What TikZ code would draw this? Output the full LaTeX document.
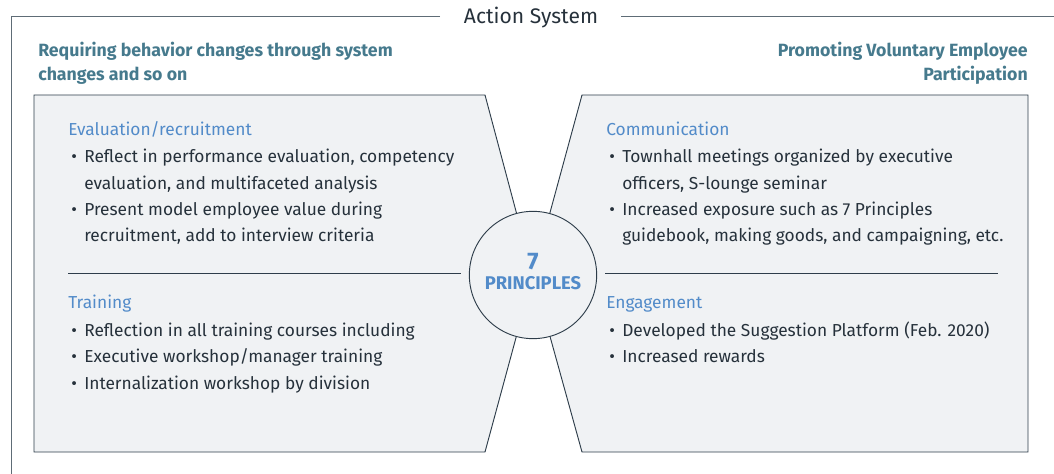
\documentclass[tikz,border=0pt]{standalone}
\usepackage{fontspec}
\setmainfont{Fira Sans}
\usetikzlibrary{positioning}
\definecolor{panelfill}{HTML}{F0F2F4}
\definecolor{edgeline}{HTML}{2E3D4A}
\definecolor{framegray}{HTML}{5E6C76}
\definecolor{headteal}{HTML}{467A8D}
\definecolor{catblue}{HTML}{528BC9}
\definecolor{bodytext}{HTML}{26313B}
\newcommand{\itm}{\makebox[0pt][r]{\textbullet\hspace{5.5pt}}}

\begin{document}
\begin{tikzpicture}[
    x=0.75pt, y=-0.75pt,   % pixel grid, y grows downwards
    frame/.style={draw=framegray, line width=0.7pt},
    panel/.style={
        draw=edgeline, 
        fill=panelfill, 
        line width=0.7pt,
        line join=miter
    },
    hub/.style={
        draw=edgeline, 
        fill=panelfill, 
        circle, 
        line width=0.7pt,
        minimum size=95.5pt, 
        inner sep=0pt
    },
    sep/.style={draw=edgeline, line width=0.6pt},
    boxtitle/.style={font=\fontsize{15.8}{18}\selectfont, text=bodytext, inner sep=0pt},
    heading/.style={font=\fontsize{13.3}{18}\selectfont\bfseries, text=headteal, inner sep=0pt},
    category/.style={font=\fontsize{13}{15}\selectfont, text=catblue, inner sep=0pt},
    items/.style={font=\fontsize{13}{19.8}\selectfont, text=bodytext, align=left, inner sep=0pt}
]
\useasboundingbox (0,0) rectangle (1054,474);

    % outer frame
    \node[boxtitle, anchor=base] (title) at (531,24) {Action System};
    \coordinate (frameL) at (440,16);
    \coordinate (frameR) at (621,16);
    \draw[frame] (frameL) -- (11,16) -- (11,474);
    \draw[frame] (frameR) -- (1054,16);

    % base anchor = baseline of the last line
    \node[heading, anchor=base west, align=left] (reqhead) at (38,81) {Requiring behavior changes through system\\changes and so on};
    \node[heading, anchor=base east, align=right] (prohead) at (1028,81) {Promoting Voluntary Employee\\Participation};

    % the two panels meet in the centre
    \coordinate (mid) at (533,275);
    \draw[panel] (34,95) -- (485,95) -- (mid) -- (485,452) -- (34,452) -- cycle;
    \draw[panel] (1028,95) -- (582,95) -- (mid) -- (582,452) -- (1028,452) -- cycle;
    \node[hub] (hub) at (mid) {};
    \node[anchor=base, inner sep=0pt, align=center, text=catblue, font=\bfseries] (hubtext) at (533,290)
        {{\fontsize{18}{19}\selectfont 7}\\[3.5pt]{\fontsize{13.8}{15}\selectfont PRINCIPLES}};

    \draw[sep] (68,273) -- ([xshift=-6pt]hub.west |- 0,273);
    \draw[sep] ([xshift=6pt]hub.east |- 0,273) -- (998,273);

    \node[category, anchor=base west] (evalhd) at (68,136) {Evaluation/recruitment};
    \node[items, anchor=base west] (evallist) at (84,242)
        {\itm Reflect in performance evaluation, competency\\
         evaluation, and multifaceted analysis\\
         \itm Present model employee value during\\
         recruitment, add to interview criteria};

    \node[category, anchor=base west] (trainhd) at (68,309) {Training};
    \node[items, anchor=base west] (trainlist) at (84,389)
        {\itm Reflection in all training courses including\\
         \itm Executive workshop/manager training\\
         \itm Internalization workshop by division};

    \node[category, anchor=base west] (commhd) at (606,136) {Communication};
    \node[items, anchor=base west] (commlist) at (622,242)
        {\itm Townhall meetings organized by executive\\
         officers, S-lounge seminar\\
         \itm Increased exposure such as 7 Principles\\
         guidebook, making goods, and campaigning, etc.};

    \node[category, anchor=base west] (engagehd) at (606,309) {Engagement};
    \node[items, anchor=base west] (engagelist) at (622,363)
        {\itm Developed the Suggestion Platform (Feb. 2020)\\
         \itm Increased rewards};
\end{tikzpicture}
\end{document}
